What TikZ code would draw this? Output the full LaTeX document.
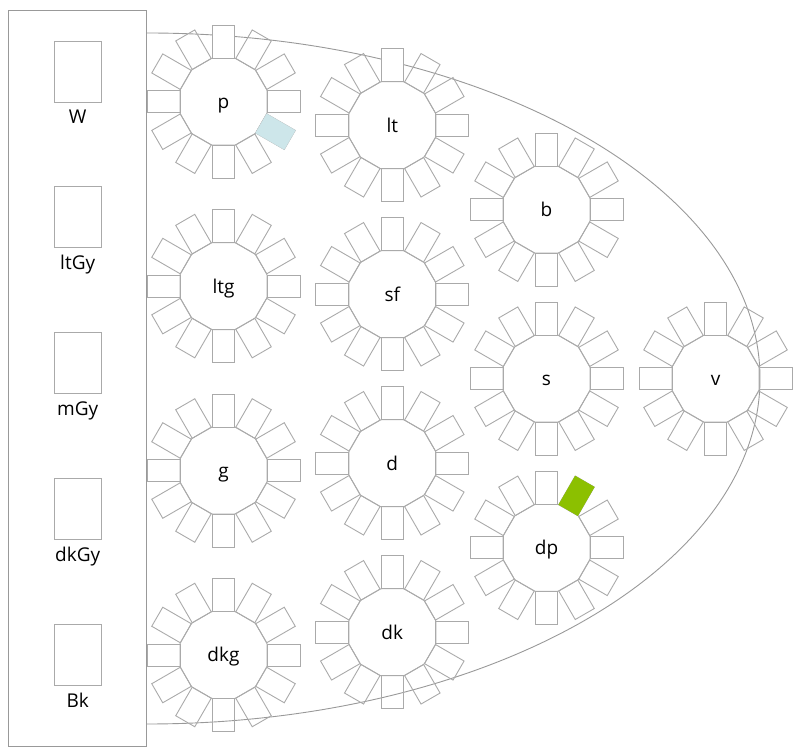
\documentclass[tikz,border=0pt]{standalone}
\usepackage{fontspec}
\setmainfont{Open Sans}
\usepackage{tikz}

\definecolor{grigio}{HTML}{AAAAAA}
\definecolor{bordo}{HTML}{999999}
\definecolor{azzurro}{HTML}{CDE6EA}
\definecolor{verde}{HTML}{8CC000}

\tikzset{
	sedia/.style={draw=grigio, line width=0.9pt},
	tavolo/.style={draw=grigio, line width=0.9pt},
	etichetta/.style={font=\fontsize{19}{22}\selectfont, inner sep=0pt, anchor=base},
	campione/.style={draw=grigio, line width=0.9pt, minimum width=46.7pt, minimum height=61pt, inner sep=0pt},
}

\begin{document}
\begin{tikzpicture}[x=1pt, y=1pt]
		\useasboundingbox (0, 0) rectangle (800, 752);

		% sala
		\draw[bordo, line width=0.9pt] (147, 719) arc[start angle=90, end angle=-90, x radius=613, y radius=345.5];

		% tavoli
		\foreach \t/\x/\y in {p/223.5/650.3, ltg/223.5/465.9, g/223.5/281.5, dkg/223.5/97,
				lt/392.3/626.7, sf/392.3/457.7, d/392.3/288.7, dk/392.3/119.7,
				b/546.5/542.3, s/546.5/373.3, dp/546.5/204.2, v/715.5/373.3} {
			\coordinate (\t) at (\x, \y);
			\begin{scope}[shift={(\t)}]
				\draw[tavolo] (-14.19:44.87) \foreach \a in {0, 30, ..., 330} { -- (\a-14.19:44.87) -- (\a+14.19:44.87) } -- cycle;
				\foreach \a in {0, 30, ..., 330}
					\draw[sedia, rotate=\a] (43.5, -11) rectangle (76.5, 11);
				\filldraw[sedia, fill=white, rotate=90] (43.5, -11) rectangle (76.5, 11);
			\end{scope}
			\node[etichetta] (n\t) at ([yshift=-7pt]\t) {\t};
		}

		% sedie colorate
		\filldraw[fill=azzurro, draw=azzurro, shift={(p)}, rotate=-30] (43.5, -11) rectangle (76.5, 11);
		\filldraw[fill=verde, draw=verde, shift={(dp)}, rotate=60] (43.5, -11) rectangle (76.5, 11);

		% pannello
		\draw[bordo, fill=white, line width=0.9pt] (8.3, 5.3) rectangle (146.7, 742);
		\foreach \n [count=\i from 0] in {W, ltGy, mGy, dkGy, Bk} {
			\node[campione] (c\n) at (77.7, 680.5-145.8*\i) {};
			\node[etichetta] (\n) at (77.7, 628-145.8*\i) {\n};
		}
	\end{tikzpicture}
\end{document}
